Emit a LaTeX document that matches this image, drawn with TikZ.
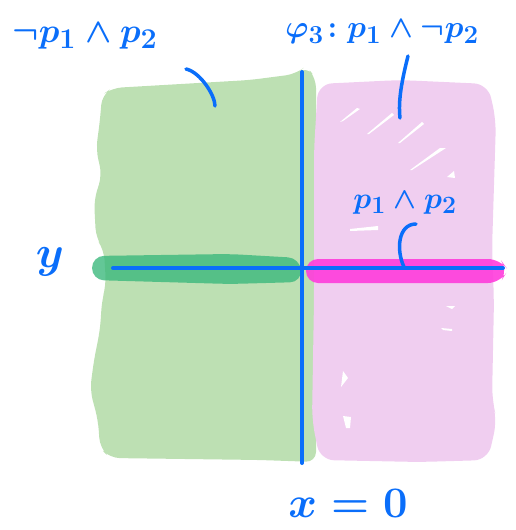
\documentclass[tikz,border=0pt]{standalone}
\usepackage{amsmath}
\usepackage{graphicx}
\newcommand{\inktext}[2]{\scalebox{#1}{\Huge\boldmath #2}}
\begin{document}
\begin{tikzpicture}[x=1pt,y=-1pt,
  ink/.style={text=inkblue, inner sep=0pt},
  pen/.style={draw=inkblue, line width=4pt, line cap=round},
  streak/.style={fill=white, draw=none}]
\definecolor{inkblue}{RGB}{10,110,250}
\definecolor{lgreen}{RGB}{189,224,179}
\definecolor{lpink}{RGB}{240,206,240}
\definecolor{dgreen}{RGB}{60,185,125}
\definecolor{magent}{RGB}{255,60,220}
\useasboundingbox (0,0) rectangle (516,530);
% green region
\fill[lgreen, rounded corners=10pt] (112,88) -- (250,80) -- (296,74) -- (306,66) -- (316,78) -- (316,462)
  -- (260,460) -- (110,458) -- (100,448) -- (98,420) -- (90,390) -- (94,360) -- (100,330) -- (102,300)
  -- (106,285) -- (104,250) -- (96,238) -- (94,200) -- (102,175) -- (96,150) -- (100,120) -- (102,95) -- cycle;
% pink region
\fill[lpink, rounded corners=14pt] (318,84) -- (400,80) -- (488,84) -- (496,120) -- (492,250) -- (494,300)
  -- (492,400) -- (497,420) -- (488,460) -- (420,462) -- (320,460) -- (312,420) -- (314,300) -- (314,150) -- cycle;
% white streaks
\fill[streak] (340,122) -- (357,108) -- (360,109) -- (343,121) -- cycle;
\fill[streak] (367,134) -- (392,113) -- (394,115) -- (369,134) -- cycle;
\fill[streak] (398,143) -- (422,122) -- (424,124) -- (400,143) -- cycle;
\fill[streak] (410,170) -- (440,148) -- (446,148) -- (412,170) -- cycle;
\fill[streak] (447,177) -- (454,171) -- (455,178) -- cycle;
\fill[streak] (350,229) -- (378,226) -- (378,230) -- (350,231) -- cycle;
\fill[streak] (446,306) -- (455,306) -- (452,309) -- cycle;
\fill[streak] (441,328) -- (452,329) -- (452,331) -- (443,330) -- cycle;
\fill[streak] (343,371) -- (348,378) -- (341,387) -- cycle;
\fill[streak] (343,416) -- (351,417) -- (350,428) -- (346,428) -- cycle;
% bands
\fill[dgreen, opacity=0.8, rounded corners=12pt] (92,256) -- (230,254) -- (300,258) -- (302,282) -- (230,284) -- (92,280) -- cycle;
\fill[magent, opacity=0.9, rounded corners=12pt] (306,259) -- (500,259) -- (508,270) -- (500,283) -- (306,283) -- cycle;
% axes
\coordinate (vtop) at (302,72);
\coordinate (vbot) at (302,463);
\coordinate (hl) at (113,268);
\coordinate (hr) at (503,268);
\draw[pen] (vtop) -- (vbot);
\draw[pen] (hl) -- (hr);
% labels
\node[ink] (lnp) at (85,36) {\inktext{1.38}{$\neg p_1 \wedge p_2$}};
\node[ink] (lphi) at (382,32) {\inktext{1.25}{$\varphi_3\!: p_1 \wedge \neg p_2$}};
\node[ink] (lpp) at (405,203) {\inktext{1.2}{$p_1 \wedge p_2$}};
\node[ink] (ly) at (50,262) {\inktext{1.8}{$y$}};
\node[ink] (lx) at (348,503) {\inktext{1.75}{$x = 0$}};
% pointers
\coordinate (a1) at (186,69);
\coordinate (a2) at (215,106);
\draw[pen, line width=3.5pt] (a1) .. controls (200,72) and (215,95) .. (a2);
\coordinate (b1) at (408,56);
\coordinate (b2) at (400,118);
\draw[pen, line width=3.5pt] (b1) .. controls (402,80) and (398,100) .. (b2);
\coordinate (c1) at (416,224);
\coordinate (c2) at (404,267);
\draw[pen, line width=3.5pt] (c1) .. controls (398,224) and (396,250) .. (c2);
\end{tikzpicture}
\end{document}
